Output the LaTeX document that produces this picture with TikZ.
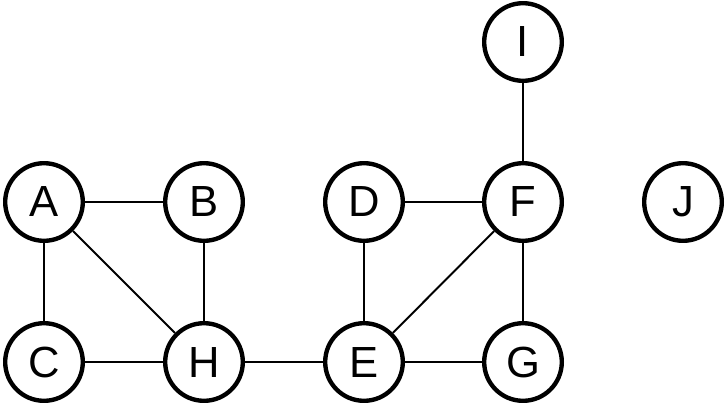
\documentclass[tikz,border=0pt]{standalone}
\usepackage{fontspec}
\setmainfont{Liberation Sans}
\usetikzlibrary{positioning}

\begin{document}
\begin{tikzpicture}[x=0.025cm,y=-0.025cm,
	vertex/.style={circle,draw=black,line width=3.1pt,minimum size=1.94cm,inner sep=0pt,font=\fontsize{31}{31}\selectfont},
	edge/.style={line width=1.4pt}]
	\useasboundingbox (0,0) rectangle (728,407);

	\node[vertex] (A) at (44,202) {A};
	\node[vertex] (B) at (204,202) {B};
	\node[vertex] (D) at (364,202) {D};
	\node[vertex] (F) at (523,202) {F};
	\node[vertex] (J) at (683,202) {J};
	\node[vertex] (I) at (523,42) {I};
	\node[vertex] (C) at (44,362) {C};
	\node[vertex] (H) at (204,362) {H};
	\node[vertex] (E) at (364,362) {E};
	\node[vertex] (G) at (523,362) {G};

	\draw[edge] (A) -- (B);
	\draw[edge] (A) -- (C);
	\draw[edge] (A) -- (H);
	\draw[edge] (B) -- (H);
	\draw[edge] (C) -- (H);
	\draw[edge] (H) -- (E);
	\draw[edge] (D) -- (F);
	\draw[edge] (D) -- (E);
	\draw[edge] (F) -- (E);
	\draw[edge] (F) -- (G);
	\draw[edge] (F) -- (I);
	\draw[edge] (E) -- (G);
\end{tikzpicture}
\end{document}
